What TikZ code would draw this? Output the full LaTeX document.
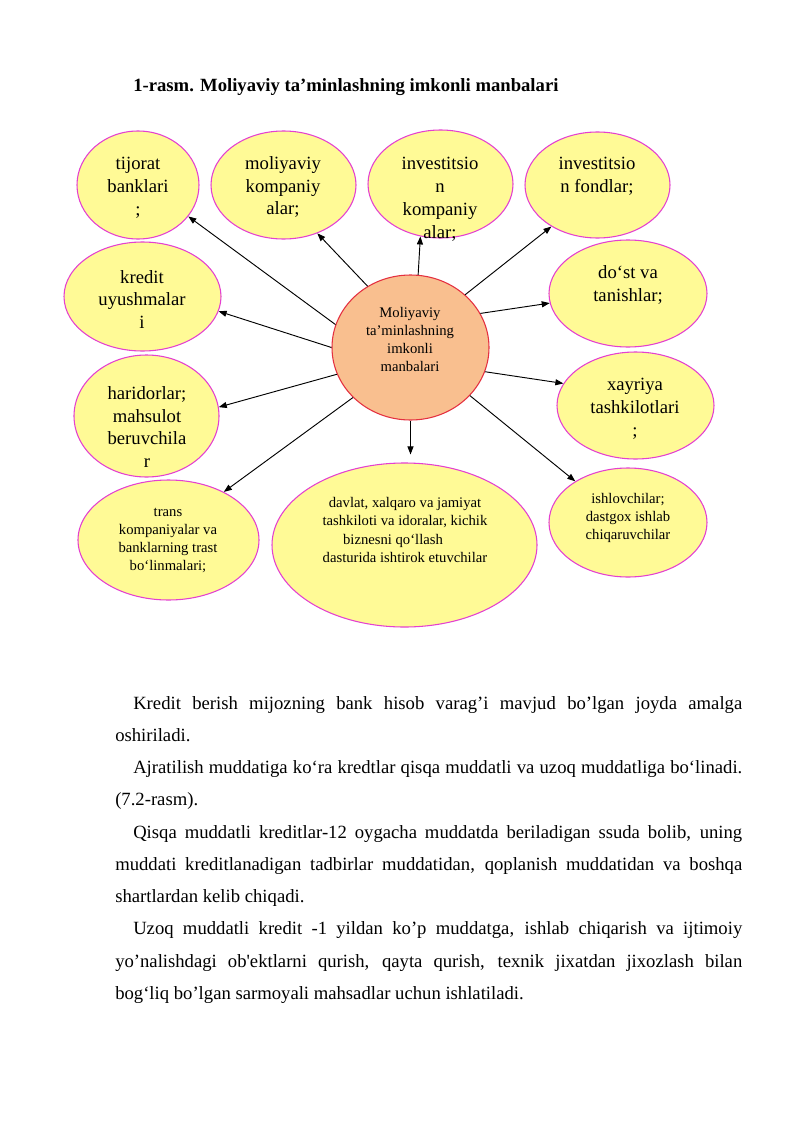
\documentclass[tikz,border=0pt]{standalone}
\usepackage{fontspec}
\setmainfont{Liberation Serif}
\usetikzlibrary{shapes.geometric,arrows.meta}
\definecolor{bubblefill}{RGB}{255,250,150}
\definecolor{bubbleline}{RGB}{228,64,208}
\definecolor{hubfill}{RGB}{249,191,143}
\definecolor{hubline}{RGB}{228,48,64}

\begin{document}
\begin{tikzpicture}[x=0.75pt,y=-0.75pt,
	bubble/.style={ellipse,draw=bubbleline,fill=bubblefill,line width=0.8pt,inner sep=0pt},
	hub/.style={ellipse,draw=hubline,fill=hubfill,line width=0.8pt,inner sep=0pt},
	big/.style={align=center,inner sep=0pt,font={\fontsize{14}{17.2}\selectfont}},
	small/.style={align=center,inner sep=0pt,font={\fontsize{11}{13.7}\selectfont}},
	arr/.style={-{Triangle[length=6pt,width=4.5pt]},line width=0.7pt}]
	%Page
		\path[fill=white] (0,0) rectangle (800,1131);
	%Title
		\node[anchor=base west,inner sep=0pt,font={\bfseries\fontsize{14}{17}\selectfont}] (title) at (133,92) {1-rasm. Moliyaviy ta’minlashning imkonli manbalari};
	%Top row
		%Tijorat banklari
		\node[bubble,minimum width=91.5pt,minimum height=81pt] (tij) at (138,185) {};
		\node[big] (tijT) at (138,188) {tijorat\\banklari\\;};
		%Moliyaviy kompaniyalar
		\node[bubble,minimum width=108.75pt,minimum height=81pt] (mol) at (283.5,185) {};
		\node[big] (molT) at (283,187) {moliyaviy\\kompaniy\\alar;};
		%Investitsion kompaniyalar
		\node[bubble,minimum width=108.75pt,minimum height=81pt] (invk) at (440.5,184) {};
		\node[big] (invkT) at (440,199.5) {investitsio\\n\\kompaniy\\alar;};
		%Investitsion fondlar
		\node[bubble,minimum width=108.75pt,minimum height=79.5pt] (invf) at (597.5,185) {};
		\node[big] (invfT) at (597,176) {investitsio\\n fondlar;};
	%Left side
		%Kredit uyushmalari
		\node[bubble,minimum width=117.75pt,minimum height=81.75pt] (kred) at (142.5,296.5) {};
		\node[big] (kredT) at (142,299.5) {kredit\\uyushmalar\\i};
		%Haridorlar
		\node[bubble,minimum width=108.75pt,minimum height=91.5pt] (har) at (146.5,416) {};
		\node[big] (harT) at (147,427) {haridorlar;\\mahsulot\\beruvchila\\r};
	%Right side
		%Do'st va tanishlar
		\node[bubble,minimum width=118.5pt,minimum height=80.25pt] (dost) at (628,293.5) {};
		\node[big] (dostT) at (628,284.5) {do‘st va\\tanishlar;};
		%Xayriya tashkilotlari
		\node[bubble,minimum width=117.75pt,minimum height=80.25pt] (xay) at (635.5,405.5) {};
		\node[big] (xayT) at (635,408.5) {xayriya\\tashkilotlari\\;};
	%Hub
		\node[hub,minimum width=117.75pt,minimum height=108.75pt] (cen) at (410.5,347.5) {};
		\node[small] (cenT) at (410,339.5) {Moliyaviy\\ta’minlashning\\imkonli\\manbalari};
	%Bottom row
		%Trans kompaniyalar
		\node[bubble,minimum width=135.75pt,minimum height=90pt] (trans) at (168.5,540) {};
		\node[small] (transT) at (168,540.5) {trans\\kompaniyalar va\\banklarning trast\\bo‘linmalari;};
		%Davlat
		\node[bubble,minimum width=198.75pt,minimum height=123pt] (davl) at (404.5,545) {};
		\node[small] (davlT) at (405,530) {davlat, xalqaro va jamiyat\\tashkiloti va idoralar, kichik\\biznesni qo‘llash\hspace*{18pt}\mbox{}\\dasturida ishtirok etuvchilar};
		%Ishlovchilar
		\node[bubble,minimum width=118.5pt,minimum height=81.75pt] (ishl) at (628,522.5) {};
		\node[small] (ishlT) at (628,518) {ishlovchilar;\\dastgox ishlab\\chiqaruvchilar};
	%Arrows from hub
		\draw[arr] (cen.163.4) -- (tij.-32.1);
		\draw[arr] (cen.125.3) -- (mol.-55.7);
		\draw[arr] (cen.84.9) -- (invk.-111.2);
		\draw[arr] (cen.44.5) -- (invf.-138.4);
		\draw[arr] (cen.180) -- (kred.-11.3);
		\draw[arr] (cen.26.1) -- (dost.-173.1);
		\draw[arr] (cen.-160.9) -- (har.7.1);
		\draw[arr] (cen.-18) -- (xay.163.2);
		\draw[arr] (cen.-139.2) -- (trans.41.4);
		\draw[arr,shorten >=6pt] (cen.south) -- (cen.south |- davl.north);
		\draw[arr] (cen.-39.8) -- (ishl.142.3);
	%Text below
		\node[anchor=base west,inner sep=0pt,text width=470.25pt,align=justify,
			font={\fontsize{14}{24.2}\selectfont\hyphenpenalty=10000\exhyphenpenalty=10000}] (body) at (115,709)
			{\hspace*{13.5pt}Kredit berish mijozning bank hisob varag’i mavjud bo’lgan joyda amalga\linebreak oshiriladi.\par
			\hspace*{13.5pt}Ajratilish muddatiga ko‘ra kredtlar qisqa muddatli va uzoq muddatliga bo‘linadi.\linebreak (7.2-rasm).\par
			\hspace*{13.5pt}Qisqa muddatli kreditlar-12 oygacha muddatda beriladigan ssuda bolib, uning\linebreak muddati kreditlanadigan tadbirlar muddatidan, qoplanish muddatidan va boshqa\linebreak shartlardan kelib chiqadi.\par
			\hspace*{13.5pt}Uzoq muddatli kredit -1 yildan ko’p muddatga, ishlab chiqarish va ijtimoiy\linebreak yo’nalishdagi ob\textquotesingle ektlarni qurish, qayta qurish, texnik jixatdan jixozlash bilan\linebreak bog‘liq bo’lgan sarmoyali mahsadlar uchun ishlatiladi.};
\end{tikzpicture}
\end{document}
